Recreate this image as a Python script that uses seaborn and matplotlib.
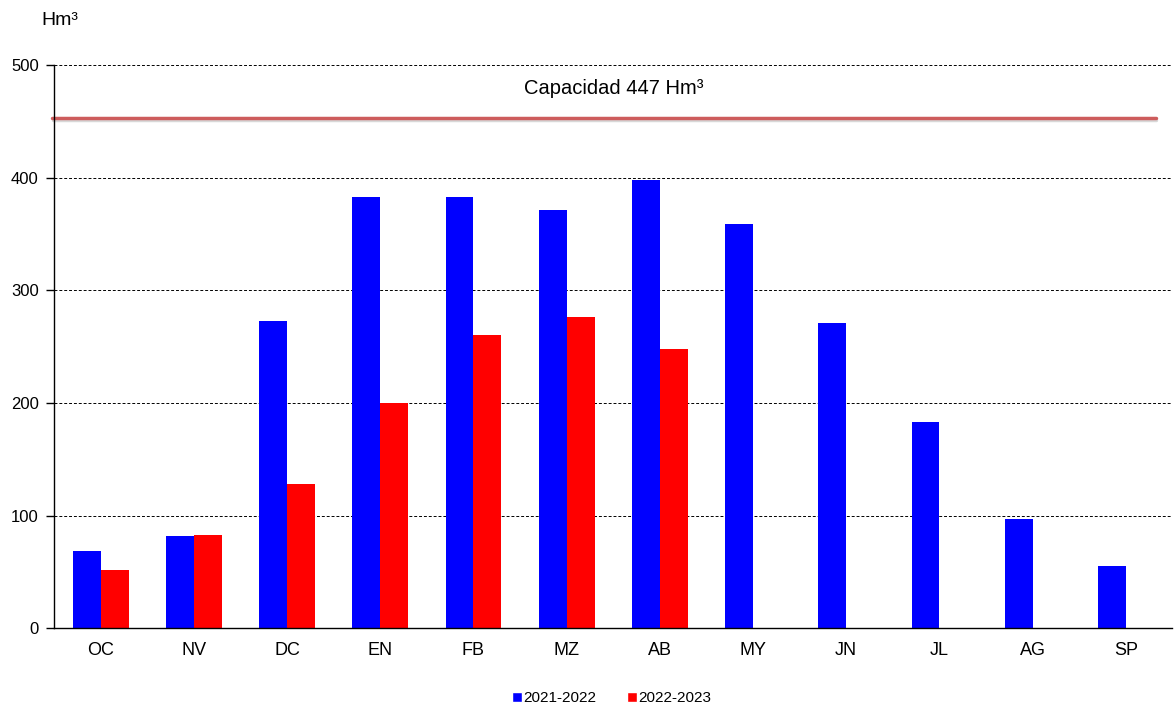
import matplotlib
matplotlib.use('Agg')
import matplotlib.pyplot as plt
import matplotlib.patheffects as pe
from matplotlib.patches import Patch
import seaborn as sns
import pandas as pd
import numpy as np

# Datos (Hm³)
meses = ['OC', 'NV', 'DC', 'EN', 'FB', 'MZ', 'AB', 'MY', 'JN', 'JL', 'AG', 'SP']
campana_2021 = [69, 82, 273, 383, 383, 371, 398, 359, 271, 183, 97, 55]
campana_2022 = [52, 83, 128, 200, 260, 276, 248, np.nan, np.nan, np.nan, np.nan, np.nan]
series = ['2021-2022', '2022-2023']
colores = ['#0000FF', '#FF0000']
capacidad = 447
capacidad_linea = 453  # posición en la que aparece dibujada la línea

df = pd.DataFrame({
    'mes': meses * 2,
    'valor': campana_2021 + campana_2022,
    'serie': [series[0]] * len(meses) + [series[1]] * len(meses),
})

sns.set_style('white')
plt.rcParams['font.family'] = ['Liberation Sans', 'DejaVu Sans']
plt.rcParams['text.color'] = 'black'
plt.rcParams['xtick.color'] = 'black'
plt.rcParams['ytick.color'] = 'black'

fig = plt.figure(figsize=(11.76, 7.06), dpi=100)
ax = fig.add_axes([0.046, 0.110, 0.951, 0.798])

sns.barplot(data=df, x='mes', y='valor', hue='serie', palette=colores,
            width=0.6, gap=0, order=meses, hue_order=series,
            saturation=1, legend=False, ax=ax, linewidth=0)

ax.set_ylim(0, 500)
ax.set_xlim(-0.5, len(meses) - 0.5)
ax.set_yticks(range(0, 501, 100))
ax.yaxis.grid(True, linestyle=(0, (3, 2)), color='black', linewidth=0.7)
ax.set_axisbelow(True)
ax.set_xlabel('')
ax.set_ylabel('')

for s in ['top', 'right']:
    ax.spines[s].set_visible(False)
for s in ['left', 'bottom']:
    ax.spines[s].set_color('black')
    ax.spines[s].set_linewidth(1.0)

ax.set_xticks(np.arange(-0.5, len(meses), 1.0), minor=True)
ax.tick_params(axis='x', which='major', length=0, labelsize=13, pad=10)
ax.tick_params(axis='x', which='minor', length=5, width=1, color='black', direction='out')
ax.tick_params(axis='y', length=6, width=1, color='black', direction='out', labelsize=12, left=True, pad=5)

# línea de capacidad
ax.axhline(capacidad_linea, xmin=-0.002, xmax=0.985, color='#CD5C5C', linewidth=2.5,
           clip_on=False,
           path_effects=[pe.SimpleLineShadow(offset=(0.5, -1.8), shadow_color='gray', alpha=0.3),
                         pe.Normal()])
ax.text((len(meses) - 1) / 2, 479, 'Capacidad %d Hm³' % capacidad,
        ha='center', va='center', fontsize=14.5)

fig.text(0.035, 0.971, 'Hm³', ha='left', va='center', fontsize=14)

handles = [Patch(facecolor=c, label=s) for c, s in zip(colores, series)]
fig.legend(handles=handles, loc='center', bbox_to_anchor=(0.52, 0.011), ncol=2,
           frameon=False, fontsize=11, handlelength=0.65, handleheight=0.65,
           handletextpad=0.1, columnspacing=2.0)

fig.savefig('out.png', dpi=100)
